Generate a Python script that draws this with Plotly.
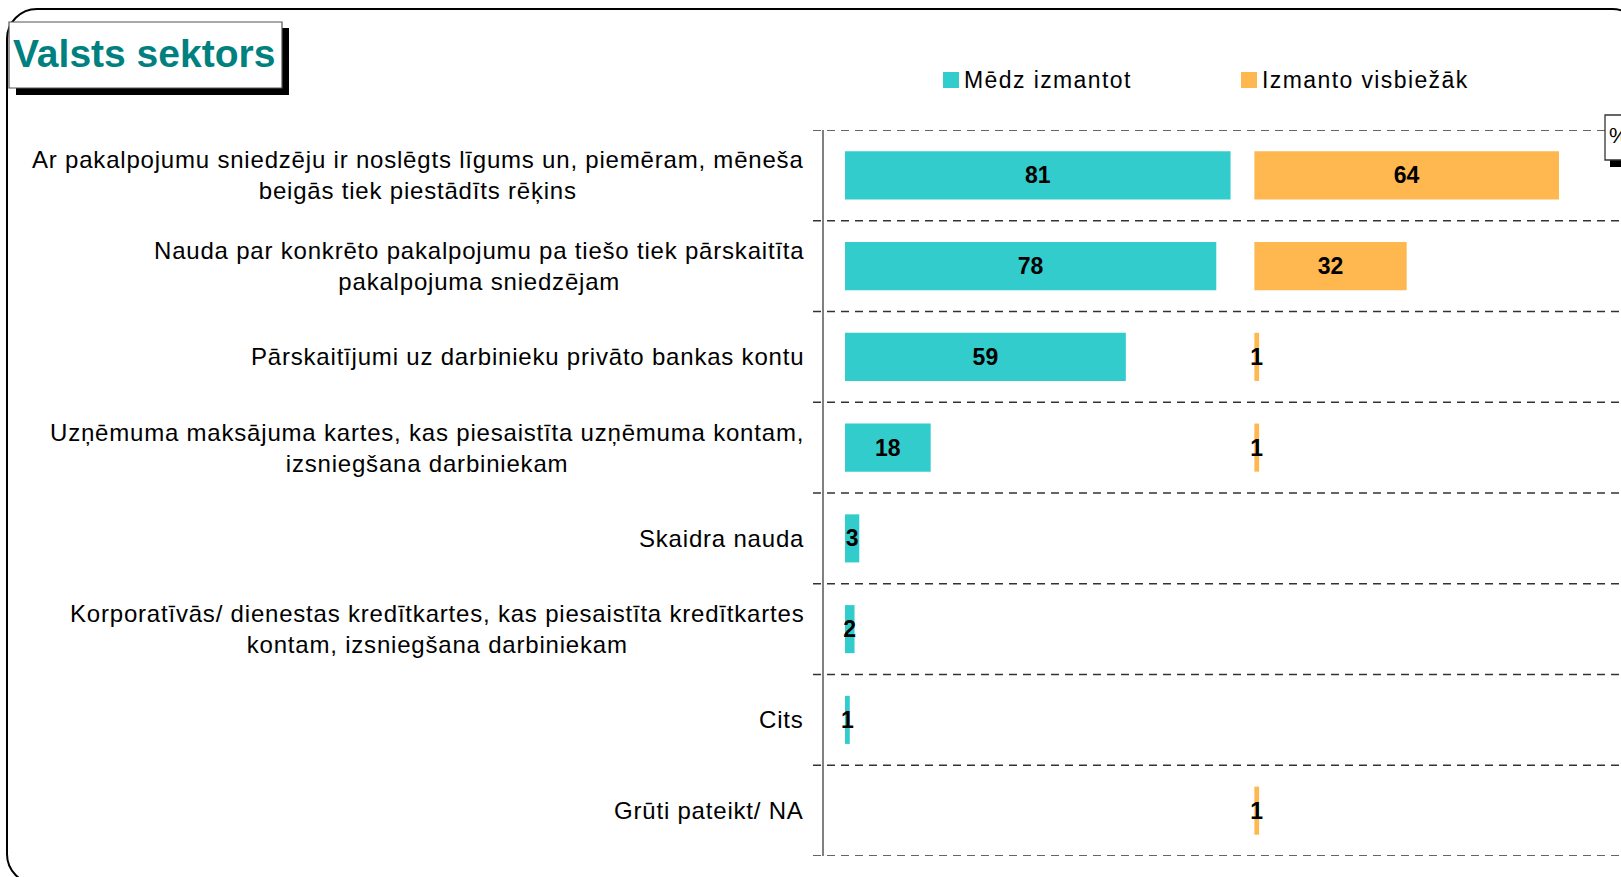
import plotly.graph_objects as go

# ---------------- data ----------------
categories = [
    "Ar pakalpojumu sniedzēju ir noslēgts līgums un, piemēram, mēneša<br>beigās tiek piestādīts rēķins",
    "Nauda par konkrēto pakalpojumu pa tiešo tiek pārskaitīta<br>pakalpojuma sniedzējam",
    "Pārskaitījumi uz darbinieku privāto bankas kontu",
    "Uzņēmuma maksājuma kartes, kas piesaistīta uzņēmuma kontam,<br>izsniegšana darbiniekam",
    "Skaidra nauda",
    "Korporatīvās/ dienestas kredītkartes, kas piesaistīta kredītkartes<br>kontam, izsniegšana darbiniekam",
    "Cits",
    "Grūti pateikt/ NA",
]
medz_izmantot = [81, 78, 59, 18, 3, 2, 1, None]
izmanto_visbiezak = [64, 32, 1, 1, None, None, None, 1]
series_names = ["Mēdz izmantot", "Izmanto visbiežāk"]
title_text = "Valsts sektors"
unit_text = "%"

# ---------------- layout constants ----------------
W, H = 1621, 877
L, R, T, B = 813, 0, 130, 21
PW, PH = W - L - R, H - T - B
PX_PER_UNIT = 4.76
ZERO_PX = 845
ORANGE_BASE = 86.0

TEAL = "#33CCCC"
ORANGE = "#FFB74F"
TITLE_COLOR = "#00807F"
FONT = "Liberation Sans, Arial, sans-serif"

def px(xp):
    return (xp - L) / PW

def py(yp):
    return 1 - (yp - T) / PH

xmin = -(ZERO_PX - L) / PX_PER_UNIT
xmax = xmin + PW / PX_PER_UNIT

ids = list(range(len(categories)))

fig = go.Figure()
fig.add_trace(go.Bar(
    y=ids, x=medz_izmantot, orientation="h", name=series_names[0],
    marker=dict(color=TEAL, line=dict(width=0)),
    texttemplate="%{x}", textposition="inside", insidetextanchor="middle",
    constraintext="none",
    textfont=dict(family=FONT, size=23, color="black", weight="bold"),
    showlegend=False, hoverinfo="skip",
))
fig.add_trace(go.Bar(
    y=ids, x=izmanto_visbiezak, base=ORANGE_BASE, orientation="h", name=series_names[1],
    marker=dict(color=ORANGE, line=dict(width=0)),
    texttemplate="%{x}", textposition="inside", insidetextanchor="middle",
    constraintext="none",
    textfont=dict(family=FONT, size=23, color="black", weight="bold"),
    showlegend=False, hoverinfo="skip",
))

shapes = []
annotations = []

# outer rounded frame
def rounded_rect(x0, y0, x1, y1, r):
    k = 0.5523 * r
    pts = [
        ("M", [(x0 + r, y0)]),
        ("L", [(x1 - r, y0)]),
        ("C", [(x1 - r + k, y0), (x1, y0 + r - k), (x1, y0 + r)]),
        ("L", [(x1, y1 - r)]),
        ("C", [(x1, y1 - r + k), (x1 - r + k, y1), (x1 - r, y1)]),
        ("L", [(x0 + r, y1)]),
        ("C", [(x0 + r - k, y1), (x0, y1 - r + k), (x0, y1 - r)]),
        ("L", [(x0, y0 + r)]),
        ("C", [(x0, y0 + r - k), (x0 + r - k, y0), (x0 + r, y0)]),
    ]
    s = ""
    for cmd, ps in pts:
        s += cmd + " ".join(f"{px(a):.6f},{py(b):.6f}" for a, b in ps) + " "
    return s + "Z"

shapes.append(dict(type="path", xref="paper", yref="paper",
                   path=rounded_rect(7, 9, 1642, 884, 30),
                   line=dict(color="black", width=2)))

# gridlines (category boundaries)
for i in range(len(categories) + 1):
    x_end = 1605 if i == 0 else W
    shapes.append(dict(type="line", xref="paper", yref="y",
                       x0=px(813), x1=px(x_end), y0=i - 0.5, y1=i - 0.5,
                       line=dict(color="#333333", width=1.3, dash="8px,6px")))
# vertical axis line
shapes.append(dict(type="line", xref="paper", yref="y",
                   x0=px(823), x1=px(823), y0=-0.5, y1=len(categories) - 0.5,
                   line=dict(color="#808080", width=2)))

# title box with shadow
shapes.append(dict(type="rect", xref="paper", yref="paper",
                   x0=px(16), x1=px(289), y0=py(95), y1=py(28),
                   fillcolor="black", line=dict(width=0)))
shapes.append(dict(type="rect", xref="paper", yref="paper",
                   x0=px(9), x1=px(282), y0=py(88), y1=py(22),
                   fillcolor="white", line=dict(color="#555555", width=1.2)))
annotations.append(dict(xref="paper", yref="paper", x=px(144), y=py(53),
                        xanchor="center", yanchor="middle", showarrow=False,
                        text=f"<b>{title_text}</b>",
                        font=dict(family=FONT, size=39, color=TITLE_COLOR)))

# % box
shapes.append(dict(type="rect", xref="paper", yref="paper",
                   x0=px(1610), x1=px(1650), y0=py(167), y1=py(120),
                   fillcolor="black", line=dict(width=0)))
shapes.append(dict(type="rect", xref="paper", yref="paper",
                   x0=px(1605), x1=px(1650), y0=py(160), y1=py(115),
                   fillcolor="white", line=dict(color="#333333", width=1.3)))
annotations.append(dict(xref="paper", yref="paper", x=px(1607), y=py(135),
                        xanchor="left", yanchor="middle", showarrow=False,
                        text=unit_text,
                        font=dict(family=FONT, size=22, color="black")))

# manual legend
legend_items = [(943, TEAL, series_names[0]), (1241, ORANGE, series_names[1])]
for x0, col, name in legend_items:
    shapes.append(dict(type="rect", xref="paper", yref="paper",
                       x0=px(x0), x1=px(x0 + 16), y0=py(88), y1=py(72),
                       fillcolor=col, line=dict(width=0)))
    annotations.append(dict(xref="paper", yref="paper", x=px(x0 + 19), y=py(80),
                            xanchor="left", yanchor="middle", showarrow=False,
                            text=f"<span style='letter-spacing:1.4px'>{name}</span>",
                            font=dict(family=FONT, size=23, color="black")))

# category labels
for i, lab in enumerate(categories):
    spaced = "<br>".join(f"<span style='letter-spacing:0.8px'>{part}</span>"
                         for part in lab.split("<br>"))
    annotations.append(dict(xref="paper", yref="y", x=px(806), y=i,
                            xanchor="right", yanchor="middle", align="center",
                            showarrow=False, text=spaced,
                            font=dict(family=FONT, size=24, color="black")))

fig.update_layout(
    width=W, height=H,
    margin=dict(l=L, r=R, t=T, b=B, pad=0),
    paper_bgcolor="white", plot_bgcolor="white",
    barmode="overlay", bargap=0.47,
    showlegend=False,
    xaxis=dict(range=[xmin, xmax], visible=False, fixedrange=True),
    yaxis=dict(range=[len(categories) - 0.5, -0.5], visible=False, fixedrange=True),
    shapes=shapes, annotations=annotations,
    font=dict(family=FONT),
)

fig.write_html("out.html", config={"displayModeBar": False},
               post_script="document.body.style.margin='0';")
